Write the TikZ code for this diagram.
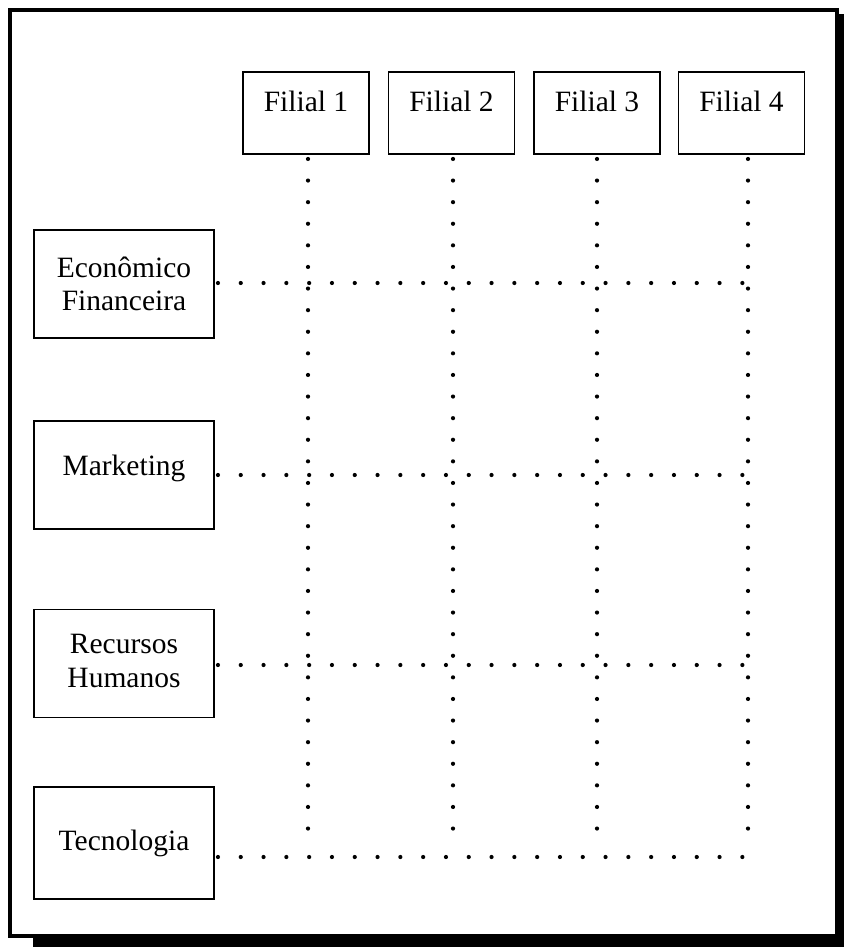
\documentclass[tikz,border=0pt]{standalone}
\usepackage{fontspec}
\setmainfont{Liberation Serif}
\begin{document}
\begin{tikzpicture}[x=1pt,y=-1pt,
 box/.style={draw, line width=1.9pt, inner sep=0pt},
 fbox/.style={box, minimum width=126pt, minimum height=82pt},
 lbox/.style={box, minimum width=180pt, minimum height=108pt},
 lbl/.style={anchor=base, font=\fontsize{29.5}{33}\selectfont, inner sep=0pt},
 hdots/.style={line width=4.2pt, line cap=round, dash pattern=on 0pt off 22.8pt},
 vdots/.style={line width=4.2pt, line cap=round, dash pattern=on 0pt off 21.6pt}]
\useasboundingbox (0,0) rectangle (846,947);
\fill[white] (0,0) rectangle (846,947);
% frame with shadow
\fill[black] (837,14) rectangle (844,947);
\fill[black] (33,937) rectangle (844,947);
\draw[line width=3.5pt] (10,10) rectangle (837,936);

% column boxes
\node[fbox] (f1) at (306,113) {};
\node[fbox] (f2) at (451.5,113) {};
\node[fbox] (f3) at (597,113) {};
\node[fbox] (f4) at (741.5,113) {};
\node[lbl] (f1t) at (306,112) {Filial 1};
\node[lbl] (f2t) at (451.5,112) {Filial 2};
\node[lbl] (f3t) at (597,112) {Filial 3};
\node[lbl] (f4t) at (741.5,112) {Filial 4};

% row boxes
\node[lbox] (e) at (124,284) {};
\node[lbox] (m) at (124,475) {};
\node[lbox] (r) at (124,663.5) {};
\node[lbox, minimum height=112pt] (t) at (124,843) {};
\node[lbl] (e1) at (124,277) {Econômico};
\node[lbl] (e2) at (124,310) {Financeira};
\node[lbl] (mt) at (124,475) {Marketing};
\node[lbl] (r1) at (124,653) {Recursos};
\node[lbl] (r2) at (124,687) {Humanos};
\node[lbl] (tt) at (124,850) {Tecnologia};

% ends of dotted lines
\coordinate (v1) at (308,849);
\coordinate (v2) at (453,849);
\coordinate (v3) at (597,849);
\coordinate (v4) at (748,849);
\coordinate (h1) at (745,283);
\coordinate (h2) at (745,475);
\coordinate (h3) at (745,665);
\coordinate (h4) at (745,857);

\draw[vdots] ([xshift=2pt,yshift=-4pt]f1.south) -- (v1);
\draw[vdots] ([xshift=1.5pt,yshift=-4pt]f2.south) -- (v2);
\draw[vdots] ([yshift=-4pt]f3.south) -- (v3);
\draw[vdots] ([xshift=6.5pt,yshift=-4pt]f4.south) -- (v4);

\draw[hdots] ([xshift=3pt,yshift=1pt]e.east) -- (h1);
\draw[hdots] ([xshift=3pt]m.east) -- (h2);
\draw[hdots] ([xshift=3pt,yshift=-1.5pt]r.east) -- (h3);
\draw[hdots] ([xshift=3pt,yshift=-14pt]t.east) -- (h4);
\end{tikzpicture}
\end{document}
